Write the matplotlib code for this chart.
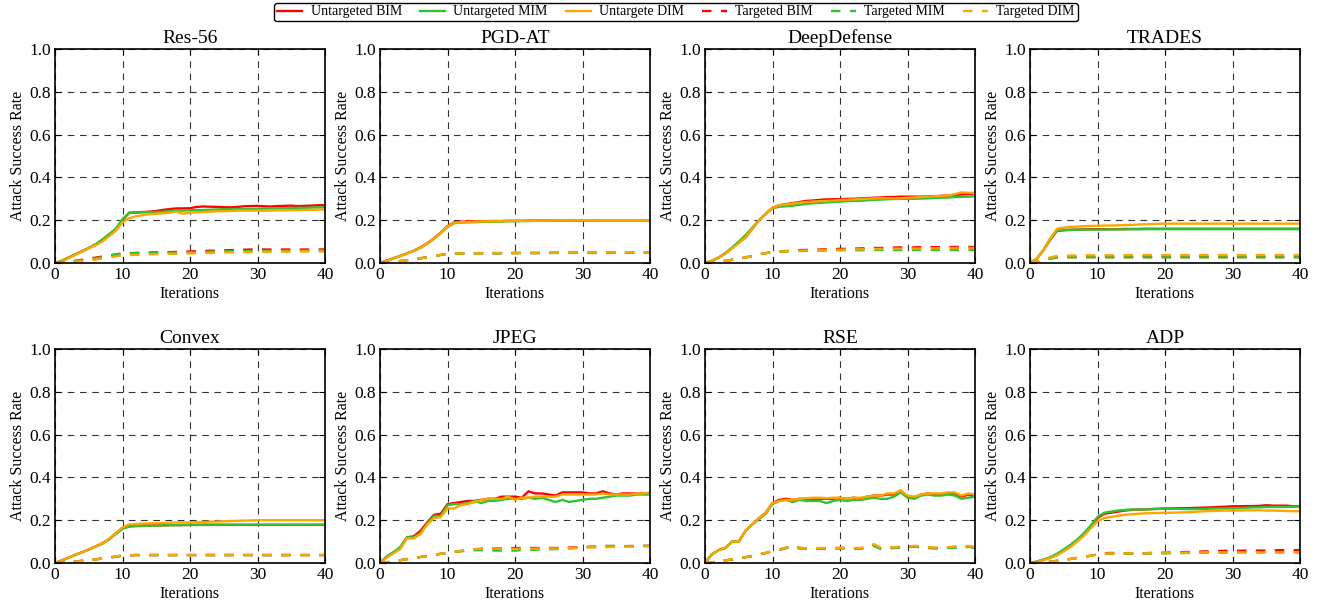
import numpy as np
import matplotlib
matplotlib.use("Agg")
import matplotlib.pyplot as plt

plt.rcParams['font.family'] = ['Liberation Serif', 'DejaVu Serif']

# iterations 0..40
iters = list(range(41))

titles = ["Res-56", "PGD-AT", "DeepDefense", "TRADES", "Convex", "JPEG", "RSE", "ADP"]
labels = ["Untargeted BIM", "Untargeted MIM", "Untargete DIM",
          "Targeted BIM", "Targeted MIM", "Targeted DIM"]

# Res-56
res56_ubim = [0, .01, .025, .04, .055, .07, .085, .105, .13, .155, .2, .235, .236, .238, .24, .243, .248, .252, .255, .255,
              .256, .262, .264, .263, .262, .261, .26, .262, .265, .266, .267, .265, .264, .266, .267, .268, .266, .267, .268, .27, .27]
res56_umim = [0, .01, .025, .04, .055, .07, .088, .11, .135, .16, .205, .235, .236, .237, .238, .238, .24, .242, .245, .245,
              .247, .247, .248, .249, .25, .252, .252, .252, .252, .252, .253, .254, .255, .256, .256, .257, .258, .258, .259, .26, .26]
res56_udim = [0, .008, .022, .038, .053, .068, .083, .1, .125, .15, .19, .21, .218, .224, .228, .23, .232, .235, .24, .23,
              .236, .237, .238, .24, .242, .242, .243, .245, .245, .245, .245, .244, .245, .246, .246, .247, .247, .248, .248, .25, .25]
res56_tbim = [0, .002, .006, .01, .015, .02, .025, .03, .035, .04, .045, .046, .047, .048, .049, .05, .05, .051, .052, .053,
              .054, .055, .056, .057, .058, .059, .06, .061, .062, .063, .064, .063, .063, .063, .063, .063, .063, .063, .063, .063, .063]
res56_tmim = [0, .002, .005, .009, .013, .018, .022, .028, .034, .039, .044, .045, .046, .047, .047, .048, .048, .049, .049, .05,
              .05, .051, .052, .053, .054, .054, .055, .055, .056, .056, .057, .057, .057, .058, .058, .058, .058, .058, .059, .059, .059]
res56_tdim = [0, .001, .003, .006, .009, .012, .016, .021, .026, .031, .035, .037, .038, .039, .04, .041, .042, .043, .043, .044,
              .045, .046, .047, .047, .048, .049, .05, .05, .051, .052, .052, .052, .053, .053, .053, .053, .054, .054, .054, .054, .054]

# PGD-AT
pgd_ubim = [0, .011, .022, .033, .045, .057, .073, .092, .115, .142, .172, .19, .193, .194, .195, .195, .196, .196, .196, .197,
            .197, .197, .198, .198, .198, .198, .198, .199, .199, .199, .199, .2, .2, .2, .2, .2, .2, .2, .2, .2, .2]
pgd_umim = [0, .011, .022, .033, .045, .057, .072, .09, .113, .14, .168, .186, .189, .19, .191, .192, .192, .193, .194, .195,
            .195, .196, .196, .197, .197, .197, .198, .198, .198, .199, .199, .199, .199, .2, .2, .2, .2, .2, .2, .2, .2]
pgd_udim = [0, .01, .021, .032, .044, .056, .071, .09, .113, .14, .17, .188, .191, .192, .193, .194, .195, .195, .196, .196,
            .197, .197, .197, .198, .198, .198, .199, .199, .199, .199, .2, .2, .2, .2, .2, .2, .2, .2, .2, .2, .2]
pgd_tbim = [0, .002, .005, .009, .013, .018, .022, .027, .032, .038, .043, .045, .045, .045, .046, .046, .046, .046, .046, .046,
            .047, .047, .047, .047, .047, .048, .048, .048, .048, .048, .048, .048, .049, .049, .049, .049, .049, .049, .05, .05, .05]
pgd_tmim = [0, .002, .005, .009, .013, .018, .022, .027, .032, .038, .042, .044, .044, .044, .045, .045, .045, .045, .045, .045,
            .046, .046, .046, .046, .046, .046, .047, .047, .047, .047, .047, .047, .047, .048, .048, .048, .048, .048, .048, .048, .048]
pgd_tdim = [0, .002, .005, .009, .013, .018, .022, .027, .032, .038, .043, .045, .045, .046, .046, .046, .046, .047, .047, .047,
            .047, .047, .048, .048, .048, .048, .048, .049, .049, .049, .049, .049, .05, .05, .05, .05, .05, .05, .05, .05, .05]

# DeepDefense
dd_ubim = [0, .01, .025, .045, .07, .095, .12, .16, .2, .23, .258, .27, .275, .28, .285, .29, .292, .295, .297, .298,
           .298, .3, .3, .302, .303, .305, .306, .308, .308, .31, .31, .31, .31, .311, .312, .314, .315, .318, .32, .322, .325]
dd_umim = [0, .01, .025, .045, .072, .1, .13, .165, .2, .23, .255, .263, .265, .268, .272, .276, .279, .281, .283, .285,
           .287, .289, .29, .291, .293, .295, .296, .298, .299, .3, .3, .3, .301, .302, .304, .305, .306, .308, .309, .31, .312]
dd_udim = [0, .01, .024, .043, .068, .093, .12, .16, .2, .23, .257, .27, .274, .278, .282, .285, .287, .289, .29, .292,
           .294, .296, .297, .299, .3, .302, .303, .303, .302, .303, .305, .306, .308, .31, .312, .313, .315, .322, .33, .328, .328]
dd_tbim = [0, .002, .006, .01, .015, .02, .026, .033, .04, .046, .052, .054, .056, .058, .06, .061, .062, .063, .064, .065,
           .066, .066, .067, .068, .069, .07, .07, .071, .072, .073, .073, .073, .074, .074, .074, .074, .074, .075, .075, .075, .075]
dd_tmim = [0, .002, .006, .01, .015, .02, .026, .033, .04, .046, .051, .053, .054, .055, .056, .057, .058, .058, .059, .059,
           .06, .06, .06, .06, .06, .061, .061, .061, .061, .061, .061, .061, .061, .061, .061, .061, .061, .061, .061, .061, .061]
dd_tdim = [0, .002, .006, .01, .015, .02, .026, .033, .04, .046, .05, .053, .055, .056, .057, .058, .059, .06, .061, .062,
           .062, .063, .064, .064, .065, .065, .066, .066, .067, .067, .068, .068, .068, .068, .069, .069, .069, .07, .07, .07, .07]

# TRADES
tr_ubim = [0, .02, .06, .11, .15, .153, .155, .156, .157, .158, .158, .158, .158, .158, .159, .159, .159, .16, .16, .16,
           .16, .16, .16, .16, .16, .16, .16, .16, .16, .16, .16, .16, .16, .16, .16, .16, .16, .16, .16, .16, .16]
tr_umim = [0, .02, .062, .112, .152, .154, .155, .155, .156, .156, .156, .156, .157, .157, .157, .158, .158, .158, .158, .158,
           .158, .158, .158, .158, .158, .158, .158, .158, .158, .158, .158, .158, .158, .158, .158, .158, .158, .158, .158, .158, .158]
tr_udim = [0, .02, .06, .115, .16, .165, .168, .17, .172, .173, .174, .175, .175, .176, .177, .178, .18, .181, .182, .183,
           .184, .184, .184, .184, .184, .184, .184, .184, .184, .184, .184, .184, .184, .184, .184, .184, .184, .184, .184, .184, .184]
tr_tbim = [0, .006, .015, .022, .028, .029, .03, .03, .03, .03, .03, .03, .03, .03, .03, .03, .03, .03, .03, .03,
           .03, .03, .03, .03, .03, .03, .03, .03, .03, .03, .03, .03, .03, .03, .03, .03, .03, .03, .03, .03, .03]
tr_tmim = [0, .006, .014, .02, .025, .026, .026, .026, .026, .026, .026, .026, .026, .026, .026, .026, .026, .026, .026, .026,
           .026, .026, .026, .026, .026, .026, .026, .026, .026, .026, .026, .026, .026, .026, .026, .026, .026, .026, .026, .026, .026]
tr_tdim = [0, .006, .016, .026, .033, .034, .035, .035, .036, .036, .036, .036, .036, .036, .036, .037, .037, .037, .037, .037,
           .037, .037, .037, .037, .037, .037, .037, .037, .037, .037, .037, .037, .037, .037, .037, .037, .037, .037, .037, .037, .037]

# Convex
cv_ubim = [0, .012, .025, .038, .05, .063, .077, .092, .112, .138, .163, .172, .174, .175, .176, .176, .176, .177, .177, .177,
           .178, .178, .178, .178, .178, .178, .178, .178, .178, .178, .178, .178, .178, .178, .178, .178, .178, .178, .178, .178, .178]
cv_umim = [0, .012, .025, .038, .05, .063, .077, .09, .11, .135, .16, .17, .172, .173, .174, .175, .176, .177, .177, .178,
           .178, .178, .179, .179, .179, .179, .179, .179, .179, .179, .179, .179, .179, .179, .179, .179, .179, .179, .179, .179, .179]
cv_udim = [0, .012, .025, .038, .05, .063, .077, .092, .113, .14, .167, .18, .182, .184, .185, .186, .187, .188, .189, .19,
           .19, .191, .192, .193, .194, .195, .196, .197, .198, .199, .2, .2, .2, .2, .2, .2, .2, .2, .2, .2, .2]
cv_tbim = [0, .002, .004, .007, .01, .013, .017, .021, .025, .03, .034, .036, .037, .037, .037, .037, .037, .037, .037, .037,
           .037, .037, .037, .037, .037, .037, .037, .037, .037, .037, .037, .037, .037, .037, .037, .037, .037, .037, .037, .037, .037]
cv_tmim = [0, .002, .004, .007, .01, .013, .017, .021, .025, .03, .034, .036, .037, .037, .037, .037, .037, .037, .037, .037,
           .037, .037, .037, .037, .037, .037, .037, .037, .037, .037, .037, .037, .037, .037, .037, .037, .037, .037, .037, .037, .037]
cv_tdim = [0, .002, .004, .007, .01, .013, .017, .021, .026, .031, .035, .037, .038, .038, .038, .038, .038, .038, .038, .038,
           .038, .038, .038, .038, .038, .038, .038, .038, .038, .038, .038, .038, .038, .038, .038, .038, .038, .038, .038, .038, .038]

# JPEG
jp_ubim = [0, .03, .05, .07, .12, .125, .15, .19, .225, .23, .275, .28, .285, .29, .29, .295, .3, .3, .31, .31,
           .31, .305, .335, .325, .325, .32, .315, .33, .33, .33, .33, .325, .325, .335, .325, .32, .325, .325, .325, .325, .325]
jp_umim = [0, .03, .05, .075, .12, .12, .14, .185, .22, .22, .27, .275, .275, .28, .29, .28, .29, .29, .295, .3,
           .3, .3, .305, .3, .305, .295, .285, .295, .285, .29, .295, .3, .3, .305, .31, .315, .315, .315, .32, .32, .32]
jp_udim = [0, .025, .045, .065, .115, .115, .135, .18, .21, .215, .255, .255, .27, .275, .285, .295, .3, .3, .3, .31,
           .295, .305, .305, .31, .31, .31, .31, .32, .32, .32, .32, .32, .32, .325, .32, .32, .32, .32, .325, .325, .33]
jp_tbim = [0, .003, .008, .013, .018, .023, .028, .033, .038, .043, .048, .052, .056, .06, .063, .066, .068, .068, .068, .069,
           .07, .07, .07, .07, .07, .07, .07, .071, .072, .073, .074, .075, .075, .076, .077, .078, .078, .079, .079, .08, .08]
jp_tmim = [0, .003, .008, .013, .018, .023, .028, .033, .038, .043, .048, .052, .055, .058, .06, .06, .06, .058, .058, .058,
           .058, .06, .06, .062, .063, .064, .065, .066, .068, .07, .073, .076, .078, .08, .08, .08, .079, .079, .079, .08, .08]
jp_tdim = [0, .003, .008, .013, .018, .023, .028, .033, .038, .043, .048, .052, .057, .062, .065, .067, .068, .068, .067, .066,
           .066, .067, .067, .067, .068, .068, .068, .069, .07, .071, .072, .073, .074, .074, .075, .075, .076, .076, .077, .078, .078]

# RSE
rs_ubim = [0, .04, .06, .07, .1, .1, .15, .18, .21, .235, .28, .295, .3, .295, .3, .3, .3, .3, .3, .3,
           .305, .3, .305, .3, .31, .315, .315, .32, .32, .335, .31, .305, .32, .325, .32, .32, .325, .325, .31, .32, .31]
rs_umim = [0, .04, .06, .07, .1, .1, .15, .18, .205, .23, .275, .29, .295, .285, .295, .29, .29, .29, .28, .29,
           .295, .29, .295, .295, .3, .305, .3, .3, .31, .33, .305, .3, .315, .32, .315, .315, .32, .315, .3, .305, .31]
rs_udim = [0, .04, .06, .07, .1, .1, .15, .18, .21, .235, .28, .29, .295, .295, .3, .303, .305, .305, .303, .305,
           .305, .3, .305, .305, .31, .315, .315, .325, .325, .34, .315, .31, .32, .325, .325, .325, .33, .33, .315, .325, .32]
rs_tbim = [0, .003, .007, .012, .017, .022, .027, .033, .04, .047, .055, .062, .07, .08, .07, .067, .068, .068, .068, .069,
           .07, .07, .068, .068, .075, .085, .07, .07, .072, .075, .075, .078, .075, .072, .07, .07, .072, .075, .07, .078, .073]
rs_tmim = [0, .003, .007, .012, .017, .022, .027, .033, .04, .047, .055, .062, .07, .078, .068, .066, .067, .066, .066, .067,
           .068, .068, .066, .066, .073, .08, .066, .066, .07, .073, .074, .076, .073, .07, .068, .068, .07, .072, .068, .076, .07]
rs_tdim = [0, .003, .007, .012, .017, .022, .027, .033, .04, .047, .056, .064, .072, .082, .072, .068, .069, .07, .07, .07,
           .071, .071, .07, .07, .077, .088, .072, .072, .074, .077, .077, .08, .077, .074, .072, .072, .074, .077, .072, .08, .075]

# ADP
adp_ubim = [0, .006, .015, .025, .04, .06, .08, .105, .135, .17, .21, .23, .235, .24, .245, .248, .25, .25, .252, .253,
            .255, .255, .256, .256, .257, .258, .259, .26, .262, .263, .265, .265, .266, .266, .267, .27, .268, .268, .268, .265, .265]
adp_umim = [0, .007, .016, .027, .043, .063, .085, .11, .14, .175, .215, .235, .24, .245, .248, .25, .25, .25, .252, .253,
            .254, .254, .253, .252, .252, .252, .253, .254, .255, .255, .255, .256, .258, .26, .26, .262, .262, .262, .262, .263, .265]
adp_udim = [0, .005, .013, .023, .036, .055, .075, .1, .128, .162, .195, .21, .215, .22, .225, .228, .23, .232, .233, .234,
            .235, .235, .236, .237, .238, .24, .242, .243, .244, .245, .245, .245, .246, .246, .246, .245, .245, .244, .243, .242, .242]
adp_tbim = [0, .001, .003, .006, .01, .014, .019, .024, .029, .034, .04, .046, .047, .046, .045, .045, .045, .046, .047, .048,
            .048, .049, .05, .051, .052, .053, .054, .055, .056, .057, .057, .057, .058, .058, .058, .058, .059, .06, .06, .06, .06]
adp_tmim = [0, .001, .003, .006, .01, .014, .019, .024, .029, .034, .04, .042, .043, .043, .043, .043, .044, .044, .044, .045,
            .045, .046, .046, .047, .047, .048, .048, .048, .049, .049, .05, .05, .05, .05, .05, .05, .05, .05, .05, .05, .05]
adp_tdim = [0, .001, .003, .006, .01, .014, .019, .024, .029, .034, .04, .044, .045, .045, .045, .045, .045, .045, .046, .046,
            .047, .047, .048, .048, .049, .049, .05, .05, .05, .05, .05, .05, .05, .05, .05, .05, .05, .05, .05, .05, .05]

panels = [
    [res56_ubim, res56_umim, res56_udim, res56_tbim, res56_tmim, res56_tdim],
    [pgd_ubim, pgd_umim, pgd_udim, pgd_tbim, pgd_tmim, pgd_tdim],
    [dd_ubim, dd_umim, dd_udim, dd_tbim, dd_tmim, dd_tdim],
    [tr_ubim, tr_umim, tr_udim, tr_tbim, tr_tmim, tr_tdim],
    [cv_ubim, cv_umim, cv_udim, cv_tbim, cv_tmim, cv_tdim],
    [jp_ubim, jp_umim, jp_udim, jp_tbim, jp_tmim, jp_tdim],
    [rs_ubim, rs_umim, rs_udim, rs_tbim, rs_tmim, rs_tdim],
    [adp_ubim, adp_umim, adp_udim, adp_tbim, adp_tmim, adp_tdim],
]

colors = ["#ff0000", "#33c133", "#ffa500"] * 2
styles = ["-"] * 3 + ["--"] * 3

W, H = 1320, 612
fig = plt.figure(figsize=(W / 100, H / 100), dpi=100)

lefts = [55, 380, 705, 1030]
tops = [49, 349]
aw, ah = 270, 214

handles = []
for k, (title, series) in enumerate(zip(titles, panels)):
    r, c = divmod(k, 4)
    ax = fig.add_axes([lefts[c] / W, 1 - (tops[r] + ah) / H, aw / W, ah / H])
    for j, s in enumerate(series):
        ln, = ax.plot(iters, s, color=colors[j], ls=styles[j], lw=1.7,
                      dashes=(4, 4) if styles[j] == "--" else (None, None))
        if k == 0:
            handles.append(ln)
    ax.set_xlim(0, 40)
    ax.set_ylim(0, 1.0)
    ax.set_xticks([0, 10, 20, 30, 40])
    ax.set_yticks(np.arange(0, 1.01, 0.2))
    ax.set_yticklabels(["%.1f" % v for v in np.arange(0, 1.01, 0.2)])
    ax.grid(True, color="black", ls=(0, (6, 5)), lw=0.8, alpha=0.8)
    ax.tick_params(direction="in", top=True, right=True, labelsize=12.5, length=4, pad=3)
    for sp in ax.spines.values():
        sp.set_linewidth(1.2)
    ax.set_title(title, fontsize=14, pad=4)
    ax.set_xlabel("Iterations", fontsize=11.5, labelpad=2)
    ax.set_ylabel("Attack Success Rate", fontsize=11.5, labelpad=2)

fig.legend(handles, labels, loc="center", bbox_to_anchor=(676 / W, 1 - 12 / H), ncol=6,
           fontsize=10, frameon=True, fancybox=True, edgecolor="black", framealpha=1,
           handlelength=1.8, columnspacing=1.3, borderpad=0.2, handletextpad=0.6)

fig.savefig("out.png", dpi=100)
